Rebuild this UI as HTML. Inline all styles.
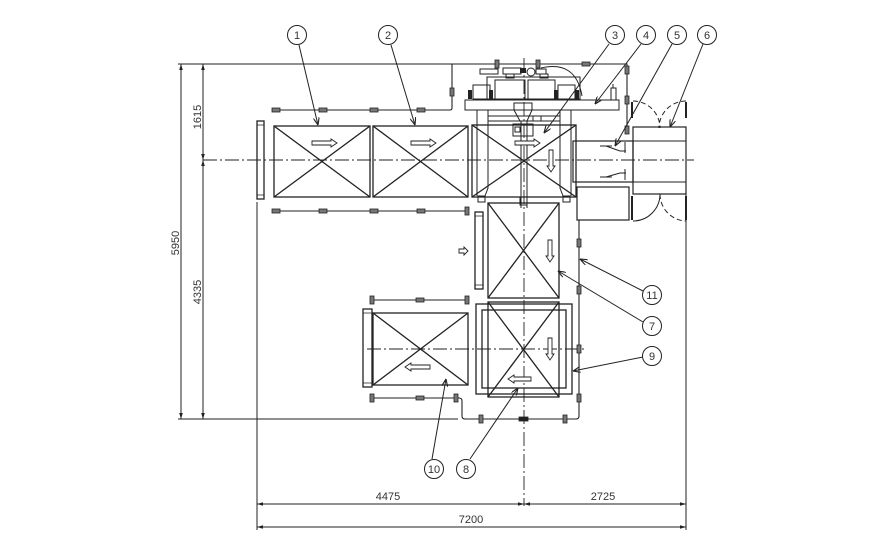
<!DOCTYPE html>
<html><head><meta charset="utf-8"><style>
html,body{margin:0;padding:0;background:#fff;}
svg{display:block}
text{font-family:"Liberation Sans",sans-serif;fill:#333;font-size:11px}
</style></head><body>
<svg width="888" height="555" viewBox="0 0 888 555" xmlns="http://www.w3.org/2000/svg">
<defs>
<marker id="d" viewBox="0 0 10 6" refX="10" refY="3" markerWidth="8" markerHeight="3.6" orient="auto-start-reverse" markerUnits="userSpaceOnUse"><path d="M0,0L10,3L0,6z" fill="#222"/></marker>
<marker id="l" viewBox="0 0 10 8" refX="10" refY="4" markerWidth="8" markerHeight="6" orient="auto" markerUnits="userSpaceOnUse"><path d="M0,0L10,4L0,8" fill="none" stroke="#222" stroke-width="1.5"/></marker>
</defs>
<rect width="888" height="555" fill="#fff"/>

<!-- dimension lines -->
<g stroke="#222" stroke-width="1" fill="none">
<line x1="181" y1="64" x2="181" y2="419" marker-start="url(#d)" marker-end="url(#d)"/>
<line x1="203" y1="64" x2="203" y2="160" marker-start="url(#d)" marker-end="url(#d)"/>
<line x1="203" y1="160" x2="203" y2="419" marker-start="url(#d)" marker-end="url(#d)"/>
<line x1="178" y1="419" x2="458" y2="419"/>
<line x1="257" y1="202" x2="257" y2="530"/>
<line x1="686" y1="194" x2="686" y2="530"/>
<line x1="257" y1="504" x2="524" y2="504" marker-start="url(#d)" marker-end="url(#d)"/>
<line x1="524" y1="504" x2="686" y2="504" marker-start="url(#d)" marker-end="url(#d)"/>
<line x1="257" y1="527" x2="686" y2="527" marker-start="url(#d)" marker-end="url(#d)"/>
</g>
<text x="179" y="243" text-anchor="middle" transform="rotate(-90 179 243)">5950</text>
<text x="201" y="117" text-anchor="middle" transform="rotate(-90 201 117)">1615</text>
<text x="201" y="292" text-anchor="middle" transform="rotate(-90 201 292)">4335</text>
<text x="388" y="500" text-anchor="middle">4475</text>
<text x="603" y="500" text-anchor="middle">2725</text>
<text x="471" y="523" text-anchor="middle">7200</text>

<!-- centerlines -->
<g stroke="#222" stroke-width="0.9" fill="none" stroke-dasharray="14,3,2,3">
<line x1="203" y1="160" x2="694" y2="160"/>
<line x1="524" y1="58" x2="524" y2="506"/>
<line x1="367" y1="349" x2="585" y2="349"/>
</g>

<!-- fences -->
<g stroke="#222" stroke-width="1.1" fill="none">
<path d="M178,64 H627 V131"/>
<path d="M452,64 V108 Q452,110 450,110 H273"/>
<line x1="273" y1="211" x2="467" y2="211"/>
<path d="M579,220 V416 Q579,419 576,419 H465 Q462,419 462,416 V401 Q462,398 459,398 H372"/>
<line x1="372" y1="300" x2="467" y2="300"/>
</g>
<g fill="#777" stroke="#222" stroke-width="0.8">
<rect x="272" y="108" width="8" height="4"/><rect x="319" y="108" width="8" height="4"/><rect x="370" y="108" width="8" height="4"/><rect x="417" y="108" width="8" height="4"/>
<rect x="582" y="62" width="8" height="4"/>
<rect x="272" y="209" width="8" height="4"/><rect x="319" y="209" width="8" height="4"/><rect x="370" y="209" width="8" height="4"/><rect x="417" y="209" width="8" height="4"/>
<rect x="519" y="417" width="9" height="4" fill="#222"/>
<rect x="416" y="396" width="8" height="4"/>
<rect x="416" y="298" width="8" height="4"/>
<rect x="450" y="88" width="4" height="8"/>
<rect x="495" y="60" width="4" height="8"/><rect x="536" y="60" width="4" height="8"/>
<rect x="625" y="66" width="4" height="8"/><rect x="625" y="96" width="4" height="8"/><rect x="625" y="126" width="4" height="8"/>
<rect x="465" y="207" width="4" height="8"/>
<rect x="577" y="239" width="4" height="8"/><rect x="577" y="286" width="4" height="8"/><rect x="577" y="345" width="4" height="8"/><rect x="577" y="394" width="4" height="8"/>
<rect x="479" y="415" width="4" height="8"/><rect x="563" y="415" width="4" height="8"/>
<rect x="370" y="394" width="4" height="8"/><rect x="454" y="394" width="4" height="8"/>
<rect x="370" y="296" width="4" height="8"/><rect x="465" y="296" width="4" height="8"/>
</g>

<!-- conveyor boxes -->
<g stroke="#222" stroke-width="1.3" fill="none">
<rect x="274" y="126" width="96" height="71"/>
<path d="M274,126L370,197M370,126L274,197"/>
<rect x="373" y="126" width="95" height="71"/>
<path d="M373,126L468,197M468,126L373,197"/>
<rect x="257" y="121" width="7" height="78"/>
<path d="M257,125H264M257,195H264" stroke-width="0.8"/>
<rect x="472" y="125" width="104" height="72"/>
<path d="M472,125L576,197M576,125L472,197"/>
<rect x="488" y="203" width="71" height="95"/>
<path d="M488,203L559,298M559,203L488,298"/>
<rect x="476" y="304" width="96" height="90"/>
<rect x="482" y="310" width="84" height="78"/>
<rect x="488" y="302" width="71" height="95"/>
<path d="M488,302L559,397M559,302L488,397"/>
<rect x="373" y="313" width="95" height="72"/>
<path d="M373,313L468,385M468,313L373,385"/>
<rect x="363" y="309" width="9" height="78"/>
<path d="M363,313H372M363,383H372" stroke-width="0.8"/>
<rect x="475" y="212" width="8" height="77"/>
<path d="M475,216H483M475,285H483" stroke-width="0.8"/>
</g>

<!-- machine (3/4) -->
<g stroke="#222" stroke-width="1" fill="none">
<rect x="465" y="100" width="154" height="10"/>
<rect x="487" y="77" width="93" height="22"/>
<rect x="473" y="85" width="17" height="14"/>
<rect x="495" y="80" width="30" height="19"/>
<rect x="528" y="80" width="27" height="19"/>
<rect x="558" y="85" width="17" height="14"/>
<rect x="480" y="69" width="18" height="5"/>
<rect x="503" y="68" width="18" height="6"/>
<rect x="506" y="74" width="8" height="4"/>
<rect x="540" y="74" width="8" height="4"/>
<circle cx="531" cy="72" r="4"/>
<rect x="536" y="69" width="10" height="5"/>
<path d="M541,68 Q576,60 582,96"/>
<rect x="611" y="88" width="5" height="12"/>
<line x1="613" y1="84" x2="613" y2="88"/>
<path d="M477,110V196M488,110V188L485,196M560,110V188L563,196M571,110V196"/>
<path d="M488,116H560M488,121H560"/>
<rect x="478" y="196" width="7" height="6"/>
<rect x="563" y="196" width="7" height="6"/>
<rect x="514" y="103" width="18" height="7"/>
<path d="M514,110L520,121H527L532,110"/>
<rect x="513" y="124" width="20" height="12"/>
<rect x="515" y="127" width="5" height="5"/>
<rect x="533" y="116" width="8" height="5"/>
<path d="M521,121V208M527,121V208"/>
<rect x="520" y="197" width="7" height="8"/>
</g>
<g fill="#222">
<rect x="468" y="90" width="4" height="9"/><rect x="489" y="90" width="4" height="9"/>
<rect x="554" y="90" width="4" height="9"/><rect x="575" y="90" width="4" height="9"/>
<rect x="520" y="68" width="6" height="5"/>
</g>

<!-- duct, doors (5/6) -->
<g stroke="#222" stroke-width="1.2" fill="none">
<rect x="573" y="141" width="60" height="41"/>
<rect x="633" y="127" width="53" height="67"/>
<path d="M633,141H686M633,182H686" stroke-width="1"/>
<rect x="577" y="187" width="52" height="33"/>
<path d="M600,146H612M606,146L620,151H626M625,142V153" stroke-width="1"/>
<path d="M600,177H612M606,177L620,173H626M625,169V180" stroke-width="1"/>
<path d="M632,102V118M686,102V118M632,196V220M686,196V220" stroke-width="2"/>
<path d="M633,101 A27,27 0 0,1 660,128" stroke-dasharray="5,3" stroke-width="1"/>
<path d="M686,101 A27,27 0 0,0 659,128" stroke-dasharray="5,3" stroke-width="1"/>
<path d="M660,194 A27,27 0 0,1 633,221" stroke-width="1"/>
<path d="M660,194 A27,27 0 0,0 686,221" stroke-dasharray="5,3" stroke-width="1"/>
</g>

<!-- hollow direction arrows -->
<g stroke="#222" stroke-width="0.9" fill="#fff">
<polygon points="312,141 331,141 331,139 337,143 331,147 331,145 312,145"/>
<polygon points="411,141 430,141 430,139 436,143 430,147 430,145 411,145"/>
<polygon points="515,141 534,141 534,139 540,143 534,147 534,145 515,145"/>
<polygon points="549,150 553,150 553,166 555,166 551,172 547,166 549,166"/>
<polygon points="548,240 552,240 552,256 554,256 550,262 546,256 548,256"/>
<polygon points="548,338 552,338 552,354 554,354 550,360 546,354 548,354"/>
<polygon points="531,377 514,377 514,375 508,379 514,383 514,381 531,381"/>
<polygon points="430,365 411,365 411,363 405,367 411,371 411,369 430,369"/>
<polygon points="459,249 464,249 464,247 468,251 464,255 464,253 459,253"/>
</g>

<!-- callout leaders -->
<g stroke="#222" stroke-width="1" fill="none" marker-end="url(#l)">
<line x1="299" y1="45" x2="318" y2="125"/>
<line x1="391" y1="45" x2="415" y2="125"/>
<line x1="609" y1="44" x2="544" y2="133"/>
<line x1="641" y1="44" x2="595" y2="104"/>
<line x1="672" y1="44" x2="615" y2="146"/>
<line x1="703" y1="44" x2="670" y2="127"/>
<line x1="643" y1="291" x2="580" y2="259"/>
<line x1="643" y1="322" x2="558" y2="271"/>
<line x1="643" y1="357" x2="573" y2="371"/>
<line x1="432" y1="459" x2="446" y2="379"/>
<line x1="470" y1="459" x2="518" y2="388"/>
</g>
<g stroke="#222" stroke-width="1" fill="#fff">
<circle cx="297" cy="35" r="9.5"/><circle cx="388" cy="35" r="9.5"/>
<circle cx="615" cy="35" r="9.5"/><circle cx="646" cy="35" r="9.5"/>
<circle cx="677" cy="35" r="9.5"/><circle cx="707" cy="35" r="9.5"/>
<circle cx="652" cy="295" r="9.5"/><circle cx="652" cy="326" r="9.5"/>
<circle cx="652" cy="356" r="9.5"/>
<circle cx="434" cy="469" r="9.5"/><circle cx="466" cy="469" r="9.5"/>
</g>
<g text-anchor="middle">
<text x="297" y="39">1</text><text x="388" y="39">2</text>
<text x="615" y="39">3</text><text x="646" y="39">4</text>
<text x="677" y="39">5</text><text x="707" y="39">6</text>
<text x="652" y="299">11</text><text x="652" y="330">7</text>
<text x="652" y="360">9</text>
<text x="434" y="473">10</text><text x="466" y="473">8</text>
</g>
</svg>
</body></html>
